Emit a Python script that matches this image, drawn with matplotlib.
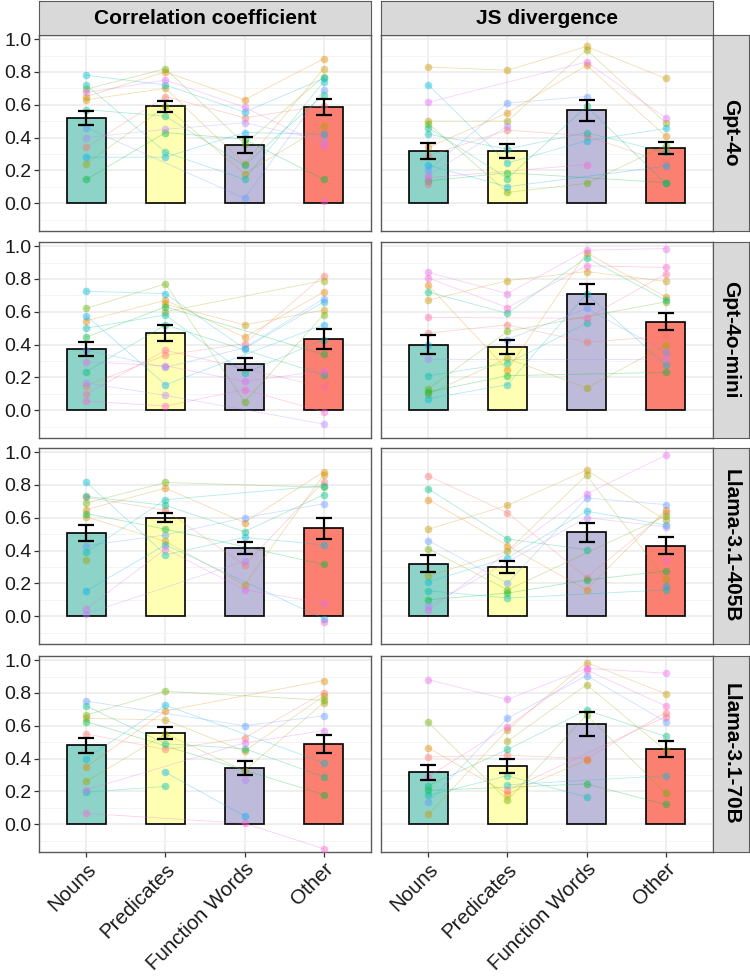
import numpy as np
import matplotlib
matplotlib.use("Agg")
import matplotlib.pyplot as plt

plt.rcParams['font.family'] = ['Liberation Sans', 'DejaVu Sans']

categories = ["Nouns", "Predicates", "Function Words", "Other"]
models = ["Gpt-4o", "Gpt-4o-mini", "Llama-3.1-405B", "Llama-3.1-70B"]
metrics = ["Correlation coefficient", "JS divergence"]

# bar heights (means) and standard errors, one row per model
corr_means = [[0.52, 0.59, 0.355, 0.585],
              [0.375, 0.47, 0.28, 0.435],
              [0.505, 0.60, 0.415, 0.535],
              [0.48, 0.555, 0.34, 0.49]]
corr_se = [[0.043, 0.033, 0.05, 0.05],
           [0.043, 0.048, 0.037, 0.06],
           [0.05, 0.028, 0.036, 0.063],
           [0.047, 0.037, 0.043, 0.056]]
js_means = [[0.32, 0.32, 0.565, 0.335],
            [0.40, 0.385, 0.71, 0.54],
            [0.32, 0.30, 0.51, 0.43],
            [0.315, 0.355, 0.61, 0.46]]
js_se = [[0.048, 0.042, 0.064, 0.038],
         [0.057, 0.042, 0.06, 0.053],
         [0.054, 0.038, 0.06, 0.05],
         [0.047, 0.041, 0.073, 0.048]]

nan = np.nan
# individual participants: rows = participant, columns = categories
gpt4o_corr = [[0.34, 0.65, 0.52, 0.595], [0.65, 0.80, 0.63, 0.88], [0.63, 0.70, 0.24, 0.82],
              [0.24, 0.59, 0.18, 0.47], [0.695, 0.82, 0.36, 0.77], [0.145, 0.43, 0.39, 0.145],
              [0.57, 0.53, 0.23, 0.66], [0.72, 0.31, 0.145, 0.74], [0.78, 0.72, 0.555, 0.76],
              [0.28, 0.28, 0.43, 0.42], [0.46, nan, 0.03, 0.69], [0.40, 0.45, 0.49, 0.38],
              [0.675, 0.75, 0.585, 0.35], [nan, nan, nan, 0.015], [nan, nan, nan, nan]]
gpt4o_js = [[0.29, 0.445, 0.41, 0.245], [0.34, 0.55, 0.84, 0.41], [0.83, 0.81, 0.955, 0.76],
            [0.50, 0.50, 0.935, 0.49], [0.485, 0.065, 0.12, 0.35], [0.135, 0.185, nan, 0.125],
            [0.46, 0.15, 0.59, 0.12], [0.42, 0.33, 0.43, 0.31], [0.72, 0.245, 0.38, 0.455],
            [0.23, 0.10, nan, 0.225], [0.20, 0.61, 0.65, nan], [0.17, 0.47, nan, nan],
            [0.615, nan, 0.86, 0.52], [0.155, nan, 0.235, nan], [0.115, nan, nan, nan]]
mini_corr = [[0.15, 0.335, 0.405, 0.82], [0.545, 0.67, 0.445, 0.72], [nan, 0.645, 0.52, 0.61],
             [nan, 0.60, nan, 0.79], [0.62, 0.77, 0.05, 0.58], [0.445, 0.63, nan, 0.34],
             [0.235, 0.52, nan, 0.215], [0.50, 0.58, 0.225, 0.43], [0.725, 0.71, 0.375, 0.66],
             [0.575, 0.155, nan, 0.52], [0.365, 0.26, 0.38, 0.68], [0.165, 0.09, nan, -0.085],
             [0.295, 0.27, 0.175, 0.24], [0.055, 0.025, 0.125, -0.01], [0.10, 0.365, nan, 0.14]]
mini_js = [[0.47, 0.52, 0.415, 0.45], [0.76, 0.245, 0.96, 0.69], [0.67, 0.79, 0.845, 0.785],
           [0.10, 0.315, 0.135, 0.395], [0.13, 0.48, nan, 0.66], [0.11, 0.21, nan, 0.23],
           [0.72, 0.59, 0.93, 0.67], [0.21, 0.285, 0.53, nan], [0.07, 0.155, 0.71, 0.275],
           [0.395, nan, nan, nan], [nan, 0.43, 0.62, 0.355], [0.31, nan, nan, 0.31],
           [0.84, 0.71, 0.975, 0.985], [0.805, 0.625, 0.88, 0.87], [0.565, nan, 0.56, 0.83]]
l405_corr = [[0.725, 0.645, 0.31, 0.82], [0.65, 0.78, 0.57, 0.88], [0.605, 0.455, 0.19, 0.86],
             [0.34, nan, nan, nan], [0.69, 0.815, nan, 0.785], [0.625, 0.53, nan, 0.315],
             [0.73, 0.675, 0.515, 0.74], [0.39, 0.71, nan, 0.795], [0.815, 0.375, 0.48, 0.435],
             [0.155, 0.435, nan, -0.015], [0.43, 0.495, 0.60, 0.685], [0.015, nan, 0.335, nan],
             [0.045, 0.41, 0.16, 0.08], [nan, nan, nan, -0.035], [nan, nan, nan, nan]]
l405_js = [[0.855, 0.63, 0.235, 0.63], [0.71, 0.43, 0.16, 0.645], [0.53, 0.675, 0.89, 0.585],
           [0.245, 0.395, 0.86, 0.225], [0.41, 0.16, nan, 0.61], [0.10, 0.14, 0.22, 0.275],
           [0.775, 0.47, 0.405, nan], [0.155, 0.11, nan, 0.16], [0.21, 0.355, 0.64, 0.555],
           [nan, nan, nan, 0.185], [0.46, 0.20, 0.72, 0.68], [0.06, nan, 0.60, 0.545],
           [0.035, nan, 0.745, 0.98], [nan, nan, nan, 0.34], [nan, nan, nan, nan]]
l70_corr = [[0.55, 0.455, 0.525, 0.80], [0.35, 0.69, nan, 0.875], [0.645, 0.635, 0.445, 0.78],
            [0.26, 0.55, 0.325, 0.74], [0.665, 0.81, nan, 0.755], [0.625, nan, nan, 0.18],
            [0.72, 0.49, 0.46, 0.29], [0.195, 0.23, nan, nan], [0.40, 0.725, nan, 0.375],
            [nan, 0.315, 0.05, nan], [0.75, nan, 0.60, 0.66], [nan, nan, 0.27, nan],
            [0.21, nan, 0.495, 0.57], [0.065, nan, 0.005, -0.15], [nan, nan, nan, nan]]
l70_js = [[0.41, 0.42, 0.40, 0.68], [0.465, 0.185, 0.39, nan], [0.06, 0.575, 0.985, 0.795],
          [nan, 0.505, 0.85, 0.45], [0.62, 0.145, 0.665, 0.19], [0.205, nan, 0.245, 0.12],
          [0.235, 0.455, 0.695, 0.535], [0.175, 0.295, 0.165, nan], [nan, 0.24, nan, 0.295],
          [nan, nan, nan, nan], [0.135, 0.645, 0.905, 0.625], [nan, nan, nan, nan],
          [0.88, 0.76, 0.95, 0.92], [0.29, 0.595, 0.94, 0.72], [nan, 0.205, nan, 0.655]]

points = [[gpt4o_corr, gpt4o_js], [mini_corr, mini_js],
          [l405_corr, l405_js], [l70_corr, l70_js]]
means = [corr_means, js_means]
ses = [corr_se, js_se]

bar_colors = ['#8DD3C7', '#FFFFB3', '#BEBADA', '#FB8072']


def hue_pal(n, c=100, l=65):
    # ggplot2 default hue palette (HCL -> sRGB)
    hues = np.deg2rad(15 + 360 * np.arange(n) / n)
    Xn, Yn, Zn = 95.047, 100.0, 108.883
    un = 4 * Xn / (Xn + 15 * Yn + 3 * Zn)
    vn = 9 * Yn / (Xn + 15 * Yn + 3 * Zn)
    Y = Yn * ((l + 16) / 116) ** 3
    up = c * np.cos(hues) / (13 * l) + un
    vp = c * np.sin(hues) / (13 * l) + vn
    X = Y * 9 * up / (4 * vp)
    Z = Y * (12 - 3 * up - 20 * vp) / (4 * vp)
    M = np.array([[3.2406, -1.5372, -0.4986],
                  [-0.9689, 1.8758, 0.0415],
                  [0.0557, -0.2040, 1.0570]])
    lin = M @ np.vstack([X, np.full(n, Y), Z]) / 100
    lin = np.clip(lin, 0, 1)
    rgb = np.where(lin <= 0.0031308, 12.92 * lin, 1.055 * lin ** (1 / 2.4) - 0.055)
    return np.clip(rgb.T, 0, 1)


W, H = 750, 977


def box(x0, y0, x1, y1):
    return [x0 / W, 1 - y1 / H, (x1 - x0) / W, (y1 - y0) / H]


fig = plt.figure(figsize=(7.5, 9.77), dpi=100)

col_x = [(39, 371), (381, 713)]
row_y = [(35, 231), (242, 438), (448, 644), (656, 852)]
border = '#5a5a5a'
pal = hue_pal(15)
x = np.arange(1, 5)

for r in range(4):
    for c in range(2):
        ax = fig.add_axes(box(col_x[c][0], row_y[r][0], col_x[c][1], row_y[r][1]))
        ax.set_xlim(0.4, 4.6)
        ax.set_ylim(-0.17, 1.025)
        ax.set_yticks(np.arange(0, 1.01, 0.2))
        ax.set_yticks(np.arange(-0.1, 1.0, 0.2), minor=True)
        ax.set_xticks(x)
        ax.grid(which='major', color='#EBEBEB', lw=1.1)
        ax.grid(which='minor', axis='y', color='#F3F3F3', lw=0.6)
        ax.set_axisbelow(True)
        for s in ax.spines.values():
            s.set_color(border)
            s.set_linewidth(1.0)

        ax.bar(x, means[c][r], width=0.5, color=bar_colors, edgecolor='black',
               linewidth=1.2, zorder=2)
        for i, row in enumerate(points[r][c]):
            vals = np.array(row, float)
            ok = ~np.isnan(vals)
            if not ok.any():
                continue
            ax.plot(x[ok], vals[ok], color=pal[i], alpha=0.3, lw=0.6, zorder=3)
            ax.scatter(x[ok], vals[ok], s=30, color=pal[i], alpha=0.45,
                       linewidths=0, zorder=4)
        ax.errorbar(x, means[c][r], yerr=ses[c][r], fmt='none', ecolor='black',
                    elinewidth=1.6, capsize=6, capthick=1.6, zorder=5)

        ax.tick_params(which='minor', length=0)
        ax.tick_params(which='major', length=3.5, width=0.9, color='#333333',
                       labelsize=14, labelcolor='#1a1a1a', pad=2)
        if c == 0:
            ax.set_yticklabels([f"{v:.1f}" for v in np.arange(0, 1.01, 0.2)])
        else:
            ax.tick_params(axis='y', length=0, labelleft=False)
        if r == 3:
            ax.set_xticklabels(categories, rotation=45, ha='right', va='top',
                               rotation_mode='anchor', fontsize=14.8)
            ax.tick_params(axis='x', pad=2)
        else:
            ax.tick_params(axis='x', length=0, labelbottom=False)

        # right-hand strip with model name
        if c == 1:
            st = fig.add_axes(box(713, row_y[r][0], 749, row_y[r][1]))
            st.set_facecolor('#D9D9D9')
            st.set_xticks([]); st.set_yticks([])
            for s in st.spines.values():
                s.set_color(border)
            st.text(0.5, 0.5, models[r], rotation=-90, ha='center', va='center',
                    fontsize=15, fontweight='bold', transform=st.transAxes)

# top strips with metric names
for c in range(2):
    st = fig.add_axes(box(col_x[c][0], 1, col_x[c][1], 35))
    st.set_facecolor('#D9D9D9')
    st.set_xticks([]); st.set_yticks([])
    for s in st.spines.values():
        s.set_color(border)
    st.text(0.5, 0.5, metrics[c], ha='center', va='center',
            fontsize=15, fontweight='bold', transform=st.transAxes)

fig.savefig("out.png", dpi=100)
